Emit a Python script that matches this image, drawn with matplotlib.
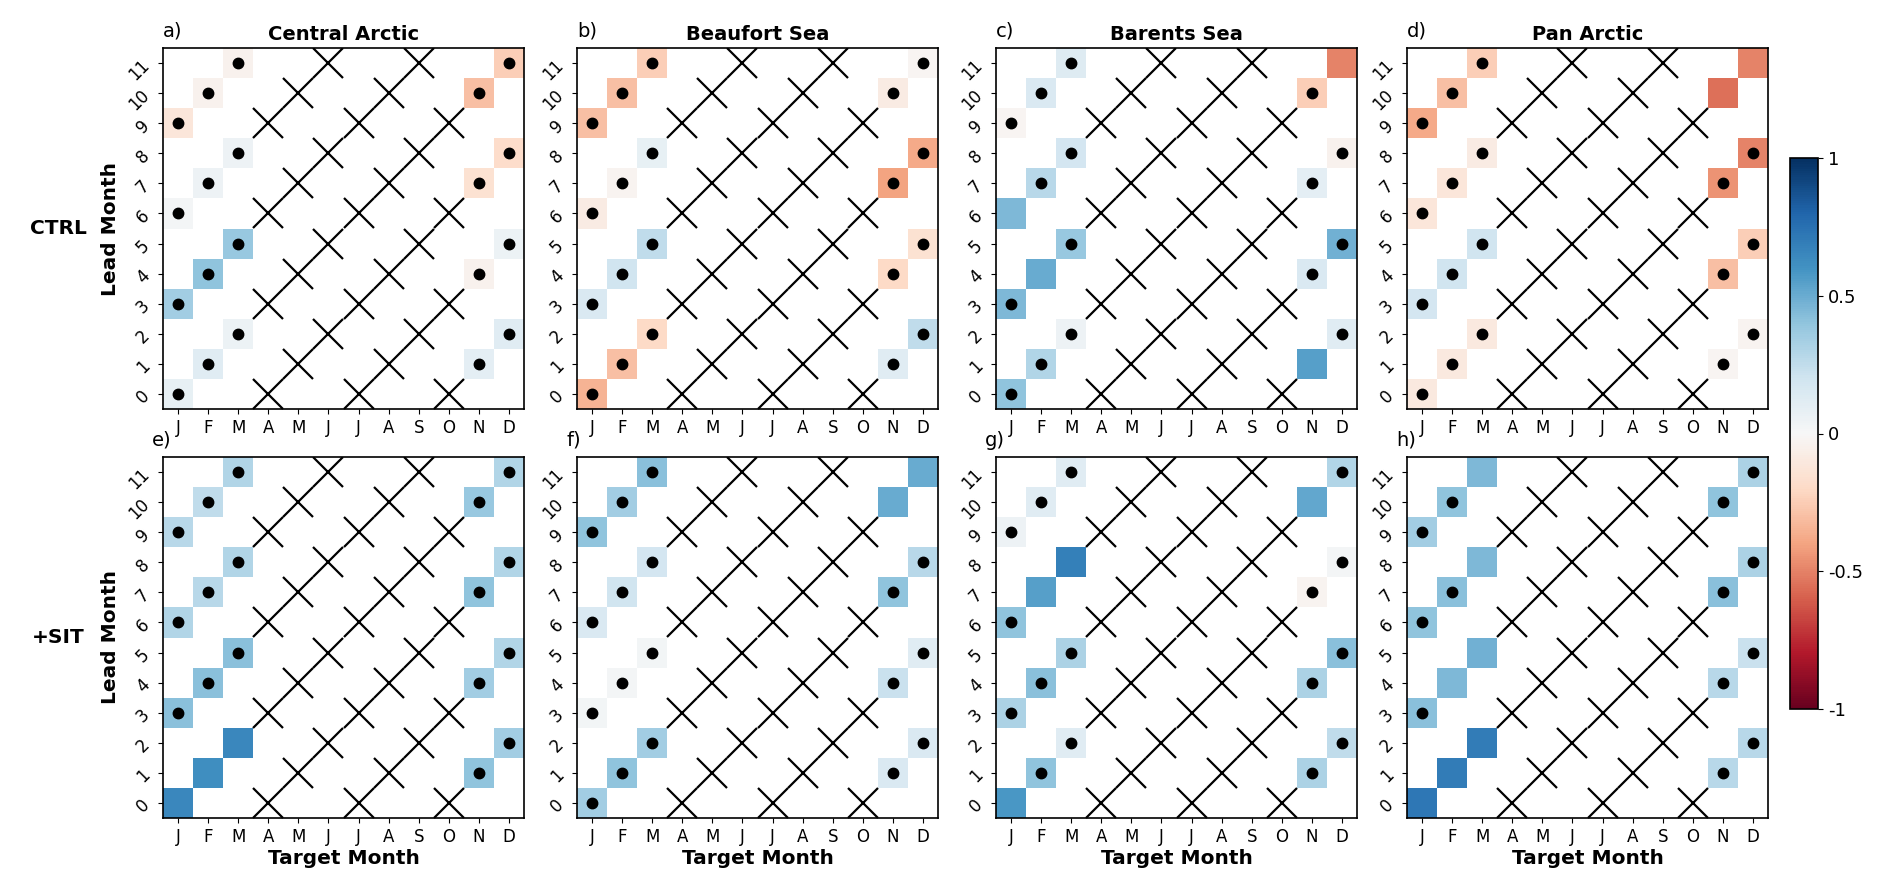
import numpy as np
import matplotlib
matplotlib.use("Agg")
import matplotlib.pyplot as plt

plt.rcParams['axes.unicode_minus'] = False

months = ['J', 'F', 'M', 'A', 'M', 'J', 'J', 'A', 'S', 'O', 'N', 'D']
leads = list(range(12))
regions = ['Central Arctic', 'Beaufort Sea', 'Barents Sea', 'Pan Arctic']
rows = ['CTRL', '+SIT']
panel_tags = ['a)', 'b)', 'c)', 'd)', 'e)', 'f)', 'g)', 'h)']

# target months (index) that have values; leads follow from quarterly inits
value_targets = [0, 1, 2, 10, 11]
# target months with no data (crossed out)
cross_targets = [3, 4, 5, 6, 7, 8, 9]

# correlation per target column (J, F, M, N, D), 4 leads each (ascending)
ctrl_central = [[0.08, 0.35, 0.02, -0.12],
                [0.12, 0.40, 0.05, -0.04],
                [0.06, 0.38, 0.05, -0.04],
                [0.10, -0.04, -0.15, -0.30],
                [0.12, 0.06, -0.18, -0.25]]
ctrl_beaufort = [[-0.35, 0.15, -0.08, -0.30],
                 [-0.30, 0.20, -0.03, -0.30],
                 [-0.20, 0.25, 0.08, -0.25],
                 [0.12, -0.20, -0.40, -0.08],
                 [0.25, -0.15, -0.38, -0.02]]
ctrl_barents = [[0.40, 0.45, 0.45, -0.02],
                [0.30, 0.50, 0.28, 0.15],
                [0.05, 0.38, 0.18, 0.13],
                [0.55, 0.15, 0.10, -0.25],
                [0.12, 0.48, -0.04, -0.50]]
ctrl_pan = [[-0.10, 0.18, -0.12, -0.38],
            [-0.10, 0.20, -0.12, -0.30],
            [-0.10, 0.20, -0.08, -0.25],
            [-0.02, -0.30, -0.45, -0.55],
            [-0.03, -0.25, -0.50, -0.50]]
sit_central = [[0.65, 0.42, 0.30, 0.28],
               [0.62, 0.42, 0.28, 0.25],
               [0.65, 0.42, 0.30, 0.30],
               [0.40, 0.35, 0.40, 0.38],
               [0.35, 0.30, 0.30, 0.30]]
sit_beaufort = [[0.35, 0.03, 0.15, 0.40],
                [0.40, 0.02, 0.20, 0.35],
                [0.35, 0.03, 0.18, 0.42],
                [0.15, 0.22, 0.40, 0.50],
                [0.15, 0.12, 0.28, 0.50]]
sit_barents = [[0.58, 0.32, 0.40, 0.05],
               [0.40, 0.42, 0.55, 0.12],
               [0.12, 0.32, 0.68, 0.12],
               [0.32, 0.32, -0.03, 0.52],
               [0.25, 0.42, 0.02, 0.30]]
sit_pan = [[0.72, 0.42, 0.40, 0.35],
           [0.70, 0.45, 0.42, 0.40],
           [0.70, 0.48, 0.45, 0.45],
           [0.28, 0.28, 0.42, 0.40],
           [0.28, 0.22, 0.32, 0.32]]

# 1 = significant (dot drawn)
ctrl_central_sig = [[1, 1, 1, 1], [1, 1, 1, 1], [1, 1, 1, 1], [1, 1, 1, 1], [1, 1, 1, 1]]
ctrl_beaufort_sig = [[1, 1, 1, 1], [1, 1, 1, 1], [1, 1, 1, 1], [1, 1, 1, 1], [1, 1, 1, 1]]
ctrl_barents_sig = [[1, 1, 0, 1], [1, 0, 1, 1], [1, 1, 1, 1], [0, 1, 1, 1], [1, 1, 1, 0]]
ctrl_pan_sig = [[1, 1, 1, 1], [1, 1, 1, 1], [1, 1, 1, 1], [1, 1, 1, 0], [1, 1, 1, 0]]
sit_central_sig = [[0, 1, 1, 1], [0, 1, 1, 1], [0, 1, 1, 1], [1, 1, 1, 1], [1, 1, 1, 1]]
sit_beaufort_sig = [[1, 1, 1, 1], [1, 1, 1, 1], [1, 1, 1, 1], [1, 1, 1, 0], [1, 1, 1, 0]]
sit_barents_sig = [[0, 1, 1, 1], [1, 1, 0, 1], [1, 1, 0, 1], [1, 1, 1, 0], [1, 1, 1, 1]]
sit_pan_sig = [[0, 1, 1, 1], [0, 0, 1, 1], [0, 0, 0, 0], [1, 1, 1, 1], [1, 1, 1, 1]]

panel_values = [ctrl_central, ctrl_beaufort, ctrl_barents, ctrl_pan,
                sit_central, sit_beaufort, sit_barents, sit_pan]
panel_sigs = [ctrl_central_sig, ctrl_beaufort_sig, ctrl_barents_sig, ctrl_pan_sig,
              sit_central_sig, sit_beaufort_sig, sit_barents_sig, sit_pan_sig]


def leads_for(target):
    # initialisations every 3 months starting in January
    return [l for l in leads if (target - l) % 3 == 0]


fig = plt.figure(figsize=(18.92, 8.93), dpi=100)

lefts = [163, 577, 996, 1407]
tops = [48, 457]
size = 361
W, H = 1892.0, 893.0

mesh = None
for k in range(8):
    r, c = divmod(k, 4)
    ax = fig.add_axes([lefts[c] / W, 1 - (tops[r] + size) / H, size / W, size / H])

    grid = np.full((12, 12), np.nan)
    dots_x, dots_y = [], []
    for i, t in enumerate(value_targets):
        for j, l in enumerate(leads_for(t)):
            grid[l, t] = panel_values[k][i][j]
            if panel_sigs[k][i][j]:
                dots_x.append(t)
                dots_y.append(l)

    mesh = ax.pcolormesh(np.arange(13) - 0.5, np.arange(13) - 0.5, grid,
                         cmap='RdBu', vmin=-1, vmax=1)

    cross_x, cross_y = [], []
    for t in cross_targets:
        for l in leads_for(t):
            cross_x.append(t)
            cross_y.append(l)
    ax.plot(cross_x, cross_y, 'x', color='k', markersize=21.0, markeredgewidth=1.6)
    ax.plot(dots_x, dots_y, 'o', color='k', markersize=7.5)

    ax.set_xlim(-0.5, 11.5)
    ax.set_ylim(-0.5, 11.5)
    ax.set_xticks(range(12))
    ax.set_xticklabels(months, fontsize=12)
    ax.set_yticks(leads)
    ax.set_yticklabels([str(l) for l in leads], fontsize=12, rotation=45)
    for sp in ax.spines.values():
        sp.set_linewidth(1.2)

    if r == 0:
        ax.set_title(regions[c], fontsize=14, fontweight='bold')
    else:
        ax.set_xlabel('Target Month', fontsize=14.5, fontweight='bold', labelpad=2)
    if c == 0:
        ax.set_ylabel('Lead Month', fontsize=14.5, fontweight='bold')
        ax.text(-0.29, 0.5, rows[r], transform=ax.transAxes, fontsize=14.5,
                fontweight='bold', ha='center', va='center')
    ax.text(0.0 if r == 0 else -0.03, 1.02, panel_tags[k], transform=ax.transAxes,
            fontsize=14, ha='left', va='bottom')

cax = fig.add_axes([1790 / W, 1 - 709 / H, 28 / W, 551 / H])
cb = fig.colorbar(mesh, cax=cax, ticks=[-1, -0.5, 0, 0.5, 1])
cb.ax.set_yticklabels(['-1', '-0.5', '0', '0.5', '1'], fontsize=13)
cb.outline.set_linewidth(1.2)

fig.savefig('out.png', dpi=100)
